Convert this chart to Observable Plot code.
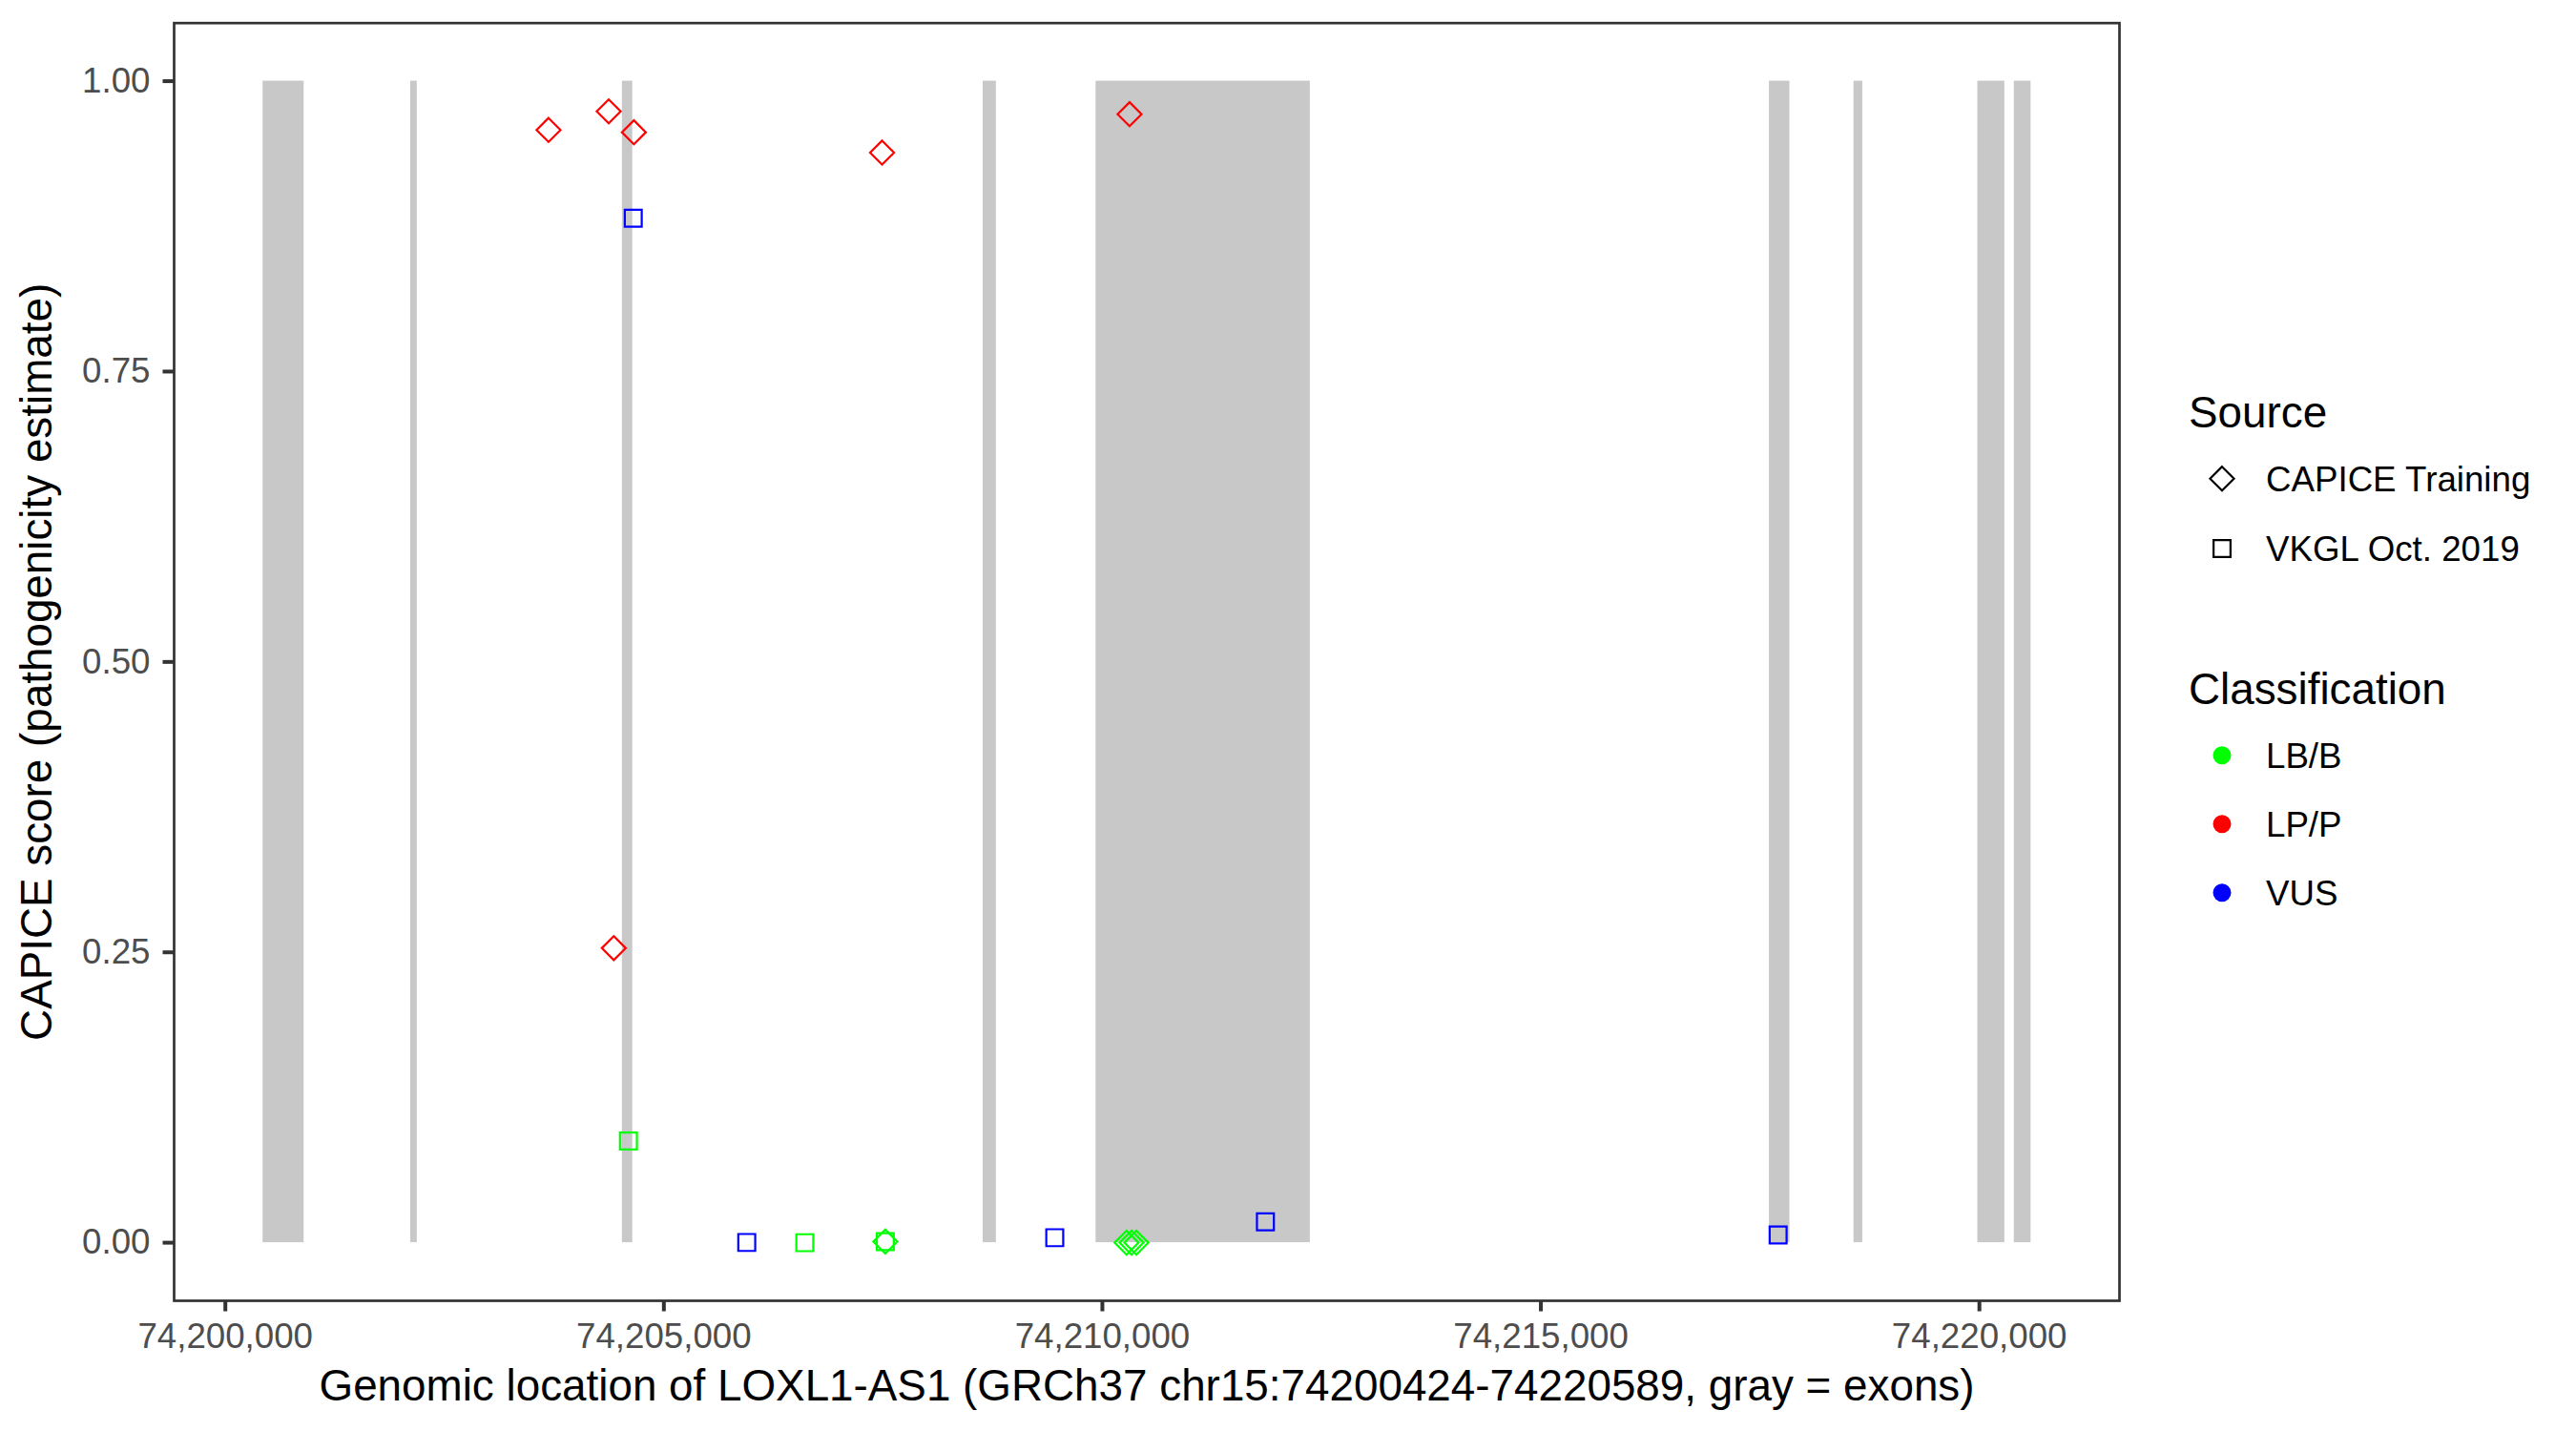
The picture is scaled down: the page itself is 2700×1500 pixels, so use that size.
<!DOCTYPE html>
<html><head><meta charset="utf-8">
<script src="https://cdn.jsdelivr.net/npm/d3@7"></script>
<script src="https://cdn.jsdelivr.net/npm/@observablehq/plot@0.6"></script>
<style>
html,body{margin:0;padding:0;background:#fff;}
#wrap{position:relative;width:2700px;height:1500px;font-family:"Liberation Sans",Arial,Helvetica,sans-serif;}
#legend{position:absolute;left:0;top:0;}
g[aria-label="x-axis label"] text, g[aria-label="y-axis label"] text {font-size:45.8px; fill:#000;}
</style></head><body><div id="wrap"></div>
<script>
// ---- data ----
const geneStart = 74200424;
const geneEnd = 74220589;
const exonStart = [74200430, 74202113, 74204527, 74208641, 74209928, 74217606, 74218570, 74219982, 74220398];
const exonEnd   = [74200898, 74202188, 74204645, 74208791, 74212371, 74217839, 74218670, 74220290, 74220589];
const scoreRange = [0, 1];

const pointPos    = [74203685, 74204371, 74204658, 74207488, 74210310, 74204429, 74204651, 74204596, 74205945, 74206607, 74207525, 74207525, 74209457, 74210276, 74210333, 74210388, 74211859, 74217705];
const pointScore  = [0.958, 0.974, 0.956, 0.9385, 0.9716, 0.2536, 0.882, 0.0875, 0.0002, 0.0, 0.001, 0.001, 0.0043, 0.0, 0.0, 0.0, 0.018, 0.0066];
const pointSource = ["CAPICE Training","CAPICE Training","CAPICE Training","CAPICE Training","CAPICE Training","CAPICE Training","VKGL Oct. 2019","VKGL Oct. 2019","VKGL Oct. 2019","VKGL Oct. 2019","CAPICE Training","VKGL Oct. 2019","VKGL Oct. 2019","CAPICE Training","CAPICE Training","CAPICE Training","VKGL Oct. 2019","VKGL Oct. 2019"];
const pointClass  = ["LP/P","LP/P","LP/P","LP/P","LP/P","LP/P","VUS","LB/B","VUS","LB/B","LB/B","LB/B","VUS","LB/B","LB/B","LB/B","VUS","VUS"];

const sourceLabels = ["CAPICE Training", "VKGL Oct. 2019"];
const sourceSymbols = ["diamond2", "square2"];
const classLabels = ["LB/B", "LP/P", "VUS"];
const classColors = ["#00FF00", "#FF0000", "#0000FF"];

const xTicks = [74200000, 74205000, 74210000, 74215000, 74220000];
const yTicks = [0, 0.25, 0.5, 0.75, 1];
const xTitle = "Genomic location of LOXL1-AS1 (GRCh37 chr15:74200424-74220589, gray = exons)";
const yTitle = "CAPICE score (pathogenicity estimate)";
const sourceTitle = "Source";
const classTitle = "Classification";

// ---- tables ----
const exons = exonStart.map((s, i) => ({start: s, end: exonEnd[i]}));
const points = pointPos.map((p, i) => ({pos: p, score: pointScore[i], source: pointSource[i], cls: pointClass[i]}));
const span = geneEnd - geneStart;
const xDomain = [geneStart - 0.05 * span, geneEnd + 0.05 * span];
const ySpan = scoreRange[1] - scoreRange[0];
const yDomain = [scoreRange[0] - 0.05 * ySpan, scoreRange[1] + 0.05 * ySpan];

const R = 11.3, SW = 2.2;

const chart = Plot.plot({
  width: 2700, height: 1500,
  marginLeft: 182, marginRight: 479, marginTop: 23.7, marginBottom: 137,
  style: {fontFamily: '"Liberation Sans", Arial, Helvetica, sans-serif', fontSize: "36.7px", background: "white", color: "#333333"},
  x: {domain: xDomain},
  y: {domain: yDomain},
  symbol: {domain: sourceLabels, range: sourceSymbols},
  color: {domain: classLabels, range: classColors},
  marks: [
    Plot.rect(exons, {x1: "start", x2: "end", y1: () => scoreRange[0], y2: () => scoreRange[1], fill: "#C8C8C8"}),
    Plot.dot(points, {x: "pos", y: "score", symbol: "source", stroke: "cls", fill: "none", r: R, strokeWidth: SW}),
    Plot.frame({stroke: "#333333", strokeWidth: 2.7}),
    Plot.axisX({ticks: xTicks, tickFormat: d3.format(","), tickSize: 11.5, tickPadding: 11.5, fontSize: 36.7, fill: "#4D4D4D", stroke: "#333333", strokeWidth: 4,
      label: xTitle, labelAnchor: "center", labelOffset: 104, labelArrow: "none"}),
    Plot.axisY({ticks: yTicks, tickFormat: d3.format(".2f"), tickSize: 11.5, tickPadding: 13.5, fontSize: 36.7, fill: "#4D4D4D", stroke: "#333333", strokeWidth: 4,
      label: yTitle, labelAnchor: "center", labelOffset: 161, labelArrow: "none"})
  ]
});
document.getElementById("wrap").appendChild(chart);

// ---- legend ----
const leg = d3.select("#wrap").append("svg").attr("id", "legend").attr("width", 2700).attr("height", 1500)
  .style("font-family", '"Liberation Sans", Arial, Helvetica, sans-serif');
const titleX = 2294, keyX = 2329, textX = 2375;
const symMap = {diamond2: d3.symbolDiamond2, square2: d3.symbolSquare2};

function section(title, baseline, labels, step, drawKey) {
  leg.append("text").attr("x", titleX).attr("y", baseline).attr("font-size", 45.8).attr("fill", "#000").text(title);
  labels.forEach((lab, i) => {
    const cy = baseline + 53.7 + i * step;
    drawKey(leg.append("g").attr("transform", `translate(${keyX},${cy})`), i);
    leg.append("text").attr("x", textX).attr("y", cy + 13.1).attr("font-size", 36.7).attr("fill", "#000").text(lab);
  });
}
section(sourceTitle, 448, sourceLabels, 73.3, (g, i) => {
  g.append("path").attr("d", d3.symbol(symMap[sourceSymbols[i]], Math.PI * R * R)()).attr("fill", "none").attr("stroke", "#000").attr("stroke-width", SW);
});
section(classTitle, 738, classLabels, 72, (g, i) => {
  g.append("circle").attr("r", 9.5).attr("fill", classColors[i]);
});
</script>
</body></html>
